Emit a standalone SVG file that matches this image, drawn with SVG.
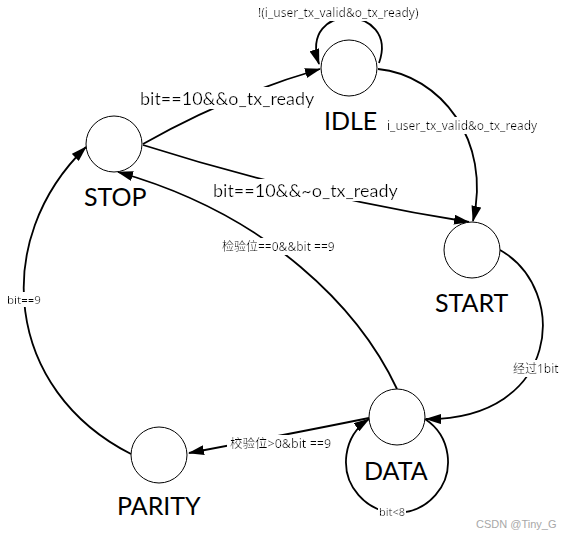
<svg xmlns="http://www.w3.org/2000/svg" width="568" height="541" viewBox="0 0 568 541">
<style>
.node{fill:#fff;stroke:#000;stroke-width:1}
.name{font-family:Lato,"Liberation Sans",sans-serif;font-size:25px;fill:#000}
.edge{fill:none;stroke:#000;stroke-width:1.8;marker-end:url(#ah)}
.big{font-family:Lato,"Liberation Sans",sans-serif;font-size:18px;fill:#000;filter:url(#bg)}
.sm{font-family:"Noto Sans","Noto Sans CJK SC",sans-serif;font-size:12px;fill:#000;filter:url(#bg)}
.wm{font-family:"Liberation Sans",sans-serif;font-size:11px;fill:#a8a8a8}
</style>
<defs>
<marker id="ah" markerWidth="16" markerHeight="10" refX="15" refY="5" orient="auto" markerUnits="userSpaceOnUse">
<path d="M0,0 L16,5 L0,10 Z" fill="#000"/>
</marker>
<filter id="bg" x="-0.02" y="0" width="1.04" height="1">
<feFlood flood-color="#fff"/>
<feMerge><feMergeNode/><feMergeNode in="SourceGraphic"/></feMerge>
</filter>
</defs>
<rect width="568" height="541" fill="#fff"/>
<g id="connectors">
<path class="edge" d="M143,144 Q230,95 320,69"/>
<path class="edge" d="M379,63 C400,5 298,0 319,64"/>
<path class="edge" d="M378,69 C440,75 492,140 473,221"/>
<path class="edge" d="M143,145 Q300,195 469,222"/>
<path class="edge" d="M500,250 C570,290 560,420 426,419"/>
<path class="edge" d="M397,389 C360,310 270,215 118,172"/>
<path class="edge" d="M369,418 Q300,432 189,453"/>
<path class="edge" d="M425,419 A51,51 0 1 1 369,419"/>
<path class="edge" d="M131,454 C5,390 -10,240 86,147"/>
<text class="sm" x="258" y="17">!(i_user_tx_valid&amp;o_tx_ready)</text>
<text class="sm" x="387" y="130">i_user_tx_valid&amp;o_tx_ready</text>
<text class="big" x="140" y="105">bit==10&amp;&amp;o_tx_ready</text>
<text class="big" x="213" y="197">bit==10&amp;&amp;~o_tx_ready</text>
<text class="sm" x="222" y="251">检验位==0&amp;&amp;bit ==9</text>
<text class="sm" x="7" y="304" style="font-size:11.5px">bit==9</text>
<text class="sm" x="513" y="373">经过1bit</text>
<text class="sm" x="230" y="448" style="font-size:12.5px">校验位&gt;0&amp;bit ==9</text>
<text class="sm" x="379" y="516" style="font-size:11px">bit&lt;8</text>
</g>
<g id="IDLE"><circle class="node" cx="349" cy="68" r="28"/><text class="name" x="324" y="130">IDLE</text></g>
<g id="STOP"><circle class="node" cx="114" cy="144" r="28"/><text class="name" x="84" y="206">STOP</text></g>
<g id="START"><circle class="node" cx="472" cy="250" r="28"/><text class="name" x="435" y="312">START</text></g>
<g id="DATA"><circle class="node" cx="397" cy="417" r="28"/><text class="name" x="364" y="480">DATA</text></g>
<g id="PARITY"><circle class="node" cx="159" cy="455" r="28"/><text class="name" x="117" y="515">PARITY</text></g>
<text class="wm" x="476" y="528">CSDN @Tiny_G</text>
</svg>
